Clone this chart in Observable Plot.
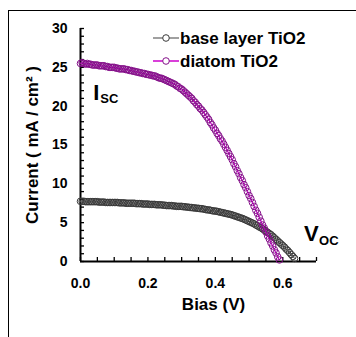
<!DOCTYPE html>
<html><head><meta charset="utf-8">
<script src="https://cdn.jsdelivr.net/npm/d3@7"></script>
<script src="https://cdn.jsdelivr.net/npm/@observablehq/plot@0.6"></script>
<style>
body{margin:0;background:#fff;}
#wrap{position:relative;width:356px;height:337px;overflow:hidden;font-family:Arial,"Liberation Sans",sans-serif;}
#frame{position:absolute;left:8px;top:10px;width:360px;height:340px;border-left:1px solid #000;border-top:1px solid #000;}
#chart{position:absolute;left:0;top:0;}
.lg{position:absolute;font-weight:bold;font-size:17px;line-height:17px;white-space:nowrap;color:#000;}
.sw{position:absolute;}
</style></head><body>
<div id="wrap"><div id="frame"></div><div id="chart"></div><div id="legend"></div></div>
<script>
const seriesNames = ["base layer TiO2", "diatom TiO2"];
const baseV = [0,0.005,0.01,0.015,0.02,0.025,0.03,0.035,0.04,0.045,0.05,0.055,0.06,0.065,0.07,0.075,0.08,0.085,0.09,0.095,0.1,0.105,0.11,0.115,0.12,0.125,0.13,0.135,0.14,0.145,0.15,0.155,0.16,0.165,0.17,0.175,0.18,0.185,0.19,0.195,0.2,0.205,0.21,0.215,0.22,0.225,0.23,0.235,0.24,0.245,0.25,0.255,0.26,0.265,0.27,0.275,0.28,0.285,0.29,0.295,0.3,0.305,0.31,0.315,0.32,0.325,0.33,0.335,0.34,0.345,0.35,0.355,0.36,0.365,0.37,0.375,0.38,0.385,0.39,0.395,0.4,0.405,0.41,0.415,0.42,0.425,0.43,0.435,0.44,0.445,0.45,0.455,0.46,0.465,0.47,0.475,0.48,0.485,0.49,0.495,0.5,0.505,0.51,0.515,0.52,0.525,0.53,0.535,0.54,0.545,0.55,0.555,0.56,0.565,0.57,0.575,0.58,0.585,0.59,0.595,0.6,0.605,0.61,0.615,0.62,0.625,0.63,0.635];
const baseI = [7.75,7.75,7.75,7.7,7.7,7.7,7.7,7.7,7.7,7.7,7.7,7.65,7.65,7.65,7.65,7.6,7.6,7.6,7.6,7.6,7.6,7.6,7.6,7.55,7.55,7.55,7.55,7.5,7.5,7.5,7.5,7.5,7.5,7.45,7.45,7.45,7.45,7.4,7.4,7.4,7.4,7.35,7.35,7.35,7.35,7.3,7.3,7.3,7.3,7.25,7.25,7.2,7.2,7.2,7.2,7.15,7.15,7.1,7.1,7.1,7.1,7.05,7.05,7.0,7.0,6.95,6.95,6.9,6.9,6.85,6.85,6.8,6.8,6.75,6.7,6.65,6.65,6.6,6.55,6.5,6.5,6.45,6.4,6.35,6.3,6.25,6.2,6.15,6.1,6.05,6.0,5.9,5.85,5.75,5.7,5.6,5.55,5.45,5.35,5.25,5.15,5.05,4.95,4.85,4.7,4.6,4.45,4.35,4.2,4.05,3.9,3.75,3.6,3.45,3.25,3.05,2.85,2.65,2.45,2.25,2.05,1.85,1.6,1.4,1.15,0.9,0.65,0.4];
const diatomV = [0,0.005,0.01,0.015,0.02,0.025,0.03,0.035,0.04,0.045,0.05,0.055,0.06,0.065,0.07,0.075,0.08,0.085,0.09,0.095,0.1,0.105,0.11,0.115,0.12,0.125,0.13,0.135,0.14,0.145,0.15,0.155,0.16,0.165,0.17,0.175,0.18,0.185,0.19,0.195,0.2,0.205,0.21,0.215,0.22,0.225,0.23,0.235,0.24,0.245,0.25,0.255,0.26,0.265,0.27,0.275,0.28,0.285,0.29,0.295,0.3,0.305,0.31,0.315,0.32,0.325,0.33,0.335,0.34,0.345,0.35,0.355,0.36,0.365,0.37,0.375,0.38,0.385,0.39,0.395,0.4,0.405,0.41,0.415,0.42,0.425,0.43,0.435,0.44,0.445,0.45,0.455,0.46,0.465,0.47,0.475,0.48,0.485,0.49,0.495,0.5,0.505,0.51,0.515,0.52,0.525,0.53,0.535,0.54,0.545,0.55,0.555,0.56,0.565,0.57,0.575,0.58,0.585,0.59];
const diatomI = [25.5,25.6,25.5,25.4,25.5,25.4,25.4,25.3,25.3,25.3,25.3,25.2,25.2,25.2,25.2,25.1,25.1,25.0,25.0,25.0,25.0,24.9,24.9,24.8,24.8,24.8,24.8,24.7,24.7,24.6,24.6,24.5,24.5,24.4,24.4,24.3,24.3,24.2,24.2,24.1,24.1,24.0,24.0,23.9,23.9,23.8,23.7,23.6,23.6,23.5,23.4,23.3,23.2,23.1,23.0,22.9,22.8,22.6,22.5,22.3,22.2,22.0,21.8,21.6,21.4,21.2,21.0,20.7,20.5,20.2,20.0,19.7,19.5,19.2,18.9,18.6,18.3,17.9,17.6,17.2,16.9,16.5,16.2,15.8,15.5,15.1,14.7,14.3,13.9,13.5,13.1,12.6,12.2,11.7,11.3,10.8,10.4,9.9,9.5,9.0,8.5,8.1,7.6,7.1,6.6,6.2,5.7,5.2,4.7,4.3,3.8,3.3,2.9,2.4,2.0,1.5,1.1,0.6,0.2];
const xMajorTicks = [0, 0.2, 0.4, 0.6];
const xMinorTicks = [0,0.05,0.1,0.15,0.2,0.25,0.3,0.35,0.4,0.45,0.5,0.55,0.6,0.65,0.7];
const yMajorTicks = [0, 5, 10, 15, 20, 25, 30];
const yMinorTicks = [0,1,2,3,4,5,6,7,8,9,10,11,12,13,14,15,16,17,18,19,20,21,22,23,24,25,26,27,28,29,30];
const xTitle = "Bias (V)";
const yTitle = "Current ( mA / cm\u00B2 )";
const annotations = [
  {x: 0.038, y: 21.75, main: "I", sub: "SC", subDx: 7, subDy: 6},
  {x: 0.663, y: 3.56, main: "V", sub: "OC", subDx: 15, subDy: 6.5}
];
const colors = {baseLine: "#808080", baseDot: "#3a3a3a", diaLine: "#cc00cc", diaDot: "#85108a"};

const base = baseV.map((v, i) => ({V: v, I: baseI[i]}));
const dia = diatomV.map((v, i) => ({V: v, I: diatomI[i]}));
const font = "Arial, 'Liberation Sans', sans-serif";

const chart = Plot.plot({
  width: 356, height: 337,
  marginLeft: 80, marginRight: 40, marginTop: 28, marginBottom: 76,
  style: {fontFamily: font, background: "transparent", overflow: "visible"},
  x: {domain: [0, 0.7]},
  y: {domain: [0, 30]},
  marks: [
    Plot.axisX({ticks: xMinorTicks, tickSize: -4, strokeWidth: 1.3, tickFormat: null, text: null, label: null}),
    Plot.axisX({ticks: xMajorTicks, tickSize: 0, tickPadding: 17, tickFormat: d3.format(".1f"), fontSize: 14, fontWeight: "bold", fill: "#000", label: null}),
    Plot.axisY({ticks: yMinorTicks, tickSize: -4, strokeWidth: 1.3, text: null, label: null}),
    Plot.axisY({ticks: yMajorTicks, tickSize: 0, tickPadding: 13, fontSize: 14, fontWeight: "bold", fill: "#000", label: null}),
    Plot.ruleY([0], {stroke: "#000", strokeWidth: 2}),
    Plot.ruleX([0], {stroke: "#000", strokeWidth: 2}),
    Plot.line(base, {x: "V", y: "I", stroke: colors.baseLine, strokeWidth: 1.2}),
    Plot.dot(base, {x: "V", y: "I", r: 3.3, stroke: colors.baseDot, strokeWidth: 1}),
    Plot.line(dia, {x: "V", y: "I", stroke: colors.diaLine, strokeWidth: 1.2}),
    Plot.dot(dia, {x: "V", y: "I", r: 3.3, stroke: colors.diaDot, strokeWidth: 1}),
    Plot.text([yTitle], {frameAnchor: "left", textAnchor: "middle", dx: -47.5, rotate: -90, fontSize: 17, fontWeight: "bold", fill: "#000"}),
    Plot.text([xTitle], {frameAnchor: "bottom", textAnchor: "middle", dx: 15, dy: 48, fontSize: 17, fontWeight: "bold", fill: "#000"}),
    Plot.text(annotations, {x: "x", y: "y", text: "main", textAnchor: "start", fontSize: 22, fontWeight: "bold", fill: "#000"}),
    Plot.text(annotations, {x: "x", y: "y", text: "sub", textAnchor: "start", fontSize: 13, fontWeight: "bold", fill: "#000"})
  ]
});
document.getElementById("chart").appendChild(chart);
// shift subscripts by their per-annotation offsets
{
  const groups = chart.querySelectorAll("g[aria-label='text']");
  const subG = groups[groups.length - 1];
  subG.querySelectorAll("text").forEach((t, i) => {
    const a = annotations[i];
    t.setAttribute("transform", (t.getAttribute("transform") || "") + ` translate(${a.subDx},${a.subDy})`);
  });
}

// legend
const legend = document.getElementById("legend");
const rows = [
  {name: seriesNames[0], line: colors.baseLine, dot: colors.baseDot, cy: 38},
  {name: seriesNames[1], line: colors.diaLine, dot: colors.diaDot, cy: 61}
];
rows.forEach(r => {
  const sw = document.createElementNS("http://www.w3.org/2000/svg", "svg");
  sw.setAttribute("class", "sw");
  sw.setAttribute("width", 30); sw.setAttribute("height", 14);
  sw.style.left = "150px"; sw.style.top = (r.cy - 7) + "px";
  sw.innerHTML = `<line x1="3" x2="29" y1="7" y2="7" stroke="${r.line}" stroke-width="1.5"/><circle cx="16" cy="7" r="3.3" fill="#fff" stroke="${r.dot}" stroke-width="1"/>`;
  legend.appendChild(sw);
  const t = document.createElement("div");
  t.className = "lg"; t.textContent = r.name;
  t.style.left = "180px"; t.style.top = (r.cy - 8.3) + "px";
  legend.appendChild(t);
});
</script>
</body></html>
